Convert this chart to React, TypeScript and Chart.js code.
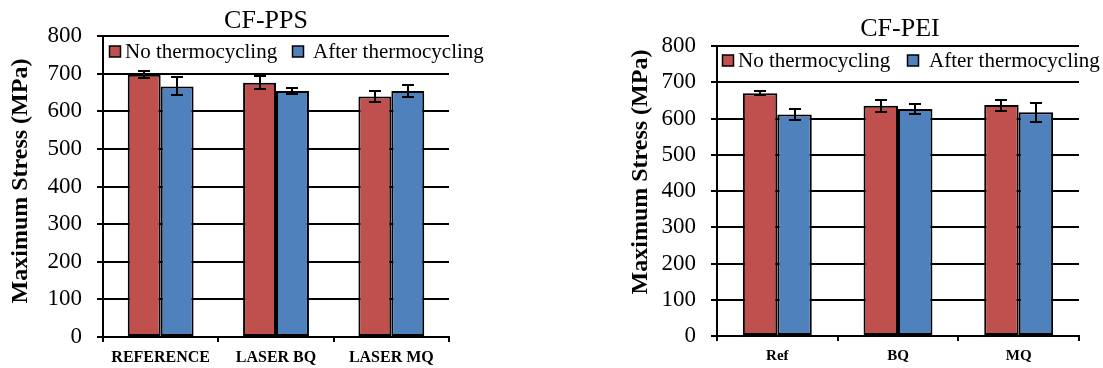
import React, { useEffect, useRef } from "react";
import { Chart, registerables } from "chart.js";

Chart.register(...registerables);

// ---- Data ----
const seriesLabels = ["No thermocycling", "After thermocycling"];
const seriesColors = ["#C0504D", "#4F81BD"];

const ppsTitle = "CF-PPS";
const ppsCategories = ["REFERENCE", "LASER BQ", "LASER MQ"];
const ppsNoThermo = [697, 676, 639];
const ppsNoThermoErr = [9, 18, 14];
const ppsAfterThermo = [666, 654, 654];
const ppsAfterThermoErr = [24, 8, 15];

const peiTitle = "CF-PEI";
const peiCategories = ["Ref", "BQ", "MQ"];
const peiNoThermo = [670, 635, 637];
const peiNoThermoErr = [5, 16, 15];
const peiAfterThermo = [611, 626, 617];
const peiAfterThermoErr = [15, 13, 26];

const yAxisTitle = "Maximum Stress (MPa)";
const yMin = 0;
const yMax = 800;
const yStep = 100;

const FONT = '"Liberation Serif", "Times New Roman", serif';

// ---- Plugins ----
const errorBarPlugin = {
  id: "errorBars",
  afterDatasetsDraw(chart: any) {
    const ctx = chart.ctx;
    const yScale = chart.scales.y;
    const cap = 6;
    chart.data.datasets.forEach((ds: any, i: number) => {
      const meta = chart.getDatasetMeta(i);
      meta.data.forEach((bar: any, j: number) => {
        const v = ds.data[j];
        const e = ds.errors[j];
        const x = Math.round(bar.x);
        const yt = Math.round(yScale.getPixelForValue(v + e));
        const yb = Math.round(yScale.getPixelForValue(v - e));
        ctx.save();
        ctx.strokeStyle = "#000";
        ctx.lineWidth = 2;
        ctx.beginPath();
        ctx.moveTo(x, yt);
        ctx.lineTo(x, yb);
        ctx.moveTo(x - cap, yt);
        ctx.lineTo(x + cap, yt);
        ctx.moveTo(x - cap, yb);
        ctx.lineTo(x + cap, yb);
        ctx.stroke();
        ctx.restore();
      });
    });
  },
};

const panelTextPlugin = {
  id: "panelText",
  afterDraw(chart: any, _args: any, opts: any) {
    const ctx = chart.ctx;
    ctx.save();
    ctx.fillStyle = "#000";
    ctx.textBaseline = "middle";

    // chart title
    ctx.textAlign = "center";
    ctx.font = `${opts.titleSize}px ${FONT}`;
    ctx.fillText(opts.title, opts.titleX, opts.titleY);

    // y-axis title
    ctx.save();
    ctx.translate(opts.yTitleX, opts.yTitleY);
    ctx.rotate(-Math.PI / 2);
    ctx.font = `bold ${opts.yTitleSize}px ${FONT}`;
    ctx.fillText(opts.yTitle, 0, 0);
    ctx.restore();

    // legend
    ctx.textAlign = "left";
    ctx.font = `${opts.legendSize}px ${FONT}`;
    const box = opts.legendBox;
    chart.data.datasets.forEach((ds: any, i: number) => {
      const item = opts.legendItems[i];
      ctx.fillStyle = ds.backgroundColor;
      ctx.fillRect(item.boxX, opts.legendY - box / 2, box, box);
      ctx.strokeStyle = "#000";
      ctx.lineWidth = 1.5;
      ctx.strokeRect(item.boxX, opts.legendY - box / 2, box, box);
      ctx.fillStyle = "#000";
      ctx.fillText(ds.label, item.textX, opts.legendY + 1);
    });
    ctx.restore();
  },
};

type Panel = {
  categories: string[];
  no: number[];
  noErr: number[];
  after: number[];
  afterErr: number[];
  width: number;
  height: number;
  area: { left: number; right: number; top: number; bottom: number };
  xFontSize: number;
  text: any;
};

function makeConfig(p: Panel): any {
  return {
    type: "bar",
    data: {
      labels: p.categories,
      datasets: [
        {
          label: seriesLabels[0],
          data: p.no,
          errors: p.noErr,
          backgroundColor: seriesColors[0],
          borderColor: "#000",
          borderWidth: 2,
          borderSkipped: false,
        },
        {
          label: seriesLabels[1],
          data: p.after,
          errors: p.afterErr,
          backgroundColor: seriesColors[1],
          borderColor: "#000",
          borderWidth: 2,
          borderSkipped: false,
        },
      ],
    },
    options: {
      responsive: false,
      animation: false,
      layout: {
        padding: {
          top: p.area.top,
          right: p.width - p.area.right,
          bottom: 0,
          left: 0,
        },
      },
      datasets: { bar: { categoryPercentage: 0.571, barPercentage: 1 } },
      plugins: {
        legend: { display: false },
        title: { display: false },
        tooltip: { enabled: false },
        panelText: p.text,
      },
      scales: {
        x: {
          grid: {
            drawOnChartArea: false,
            drawTicks: true,
            tickLength: 5,
            offset: true,
            color: "#000",
            lineWidth: 2,
          },
          border: { color: "#000", width: 2 },
          ticks: {
            color: "#000",
            padding: 6,
            font: { family: FONT, size: p.xFontSize, weight: "bold" },
          },
          afterFit: (s: any) => {
            s.height = p.height - p.area.bottom;
          },
        },
        y: {
          min: yMin,
          max: yMax,
          ticks: {
            stepSize: yStep,
            color: "#000",
            padding: 15,
            font: { family: FONT, size: 23 },
          },
          grid: { color: "#000", lineWidth: 2, tickLength: 6 },
          border: { color: "#000", width: 2 },
          afterFit: (s: any) => {
            s.width = p.area.left;
          },
        },
      },
    },
    plugins: [errorBarPlugin, panelTextPlugin],
  };
}

const leftPanel: Panel = {
  categories: ppsCategories,
  no: ppsNoThermo,
  noErr: ppsNoThermoErr,
  after: ppsAfterThermo,
  afterErr: ppsAfterThermoErr,
  width: 560,
  height: 368,
  area: { left: 103, right: 449, top: 36, bottom: 337 },
  xFontSize: 16,
  text: {
    title: ppsTitle,
    titleX: 266,
    titleY: 21,
    titleSize: 26,
    yTitle: yAxisTitle,
    yTitleX: 21,
    yTitleY: 181,
    yTitleSize: 24,
    legendSize: 21,
    legendBox: 11,
    legendY: 51.5,
    legendItems: [
      { boxX: 109.5, textX: 125 },
      { boxX: 292.5, textX: 313 },
    ],
  },
};

const rightPanel: Panel = {
  categories: peiCategories,
  no: peiNoThermo,
  noErr: peiNoThermoErr,
  after: peiAfterThermo,
  afterErr: peiAfterThermoErr,
  width: 543,
  height: 368,
  area: { left: 157, right: 519, top: 46, bottom: 336 },
  xFontSize: 15,
  text: {
    title: peiTitle,
    titleX: 340,
    titleY: 29,
    titleSize: 26,
    yTitle: yAxisTitle,
    yTitleX: 81,
    yTitleY: 172,
    yTitleSize: 24,
    legendSize: 21,
    legendBox: 11,
    legendY: 60.5,
    legendItems: [
      { boxX: 162.5, textX: 178 },
      { boxX: 347.5, textX: 369 },
    ],
  },
};

function ChartCanvas({ panel, left }: { panel: Panel; left: number }) {
  const ref = useRef<HTMLCanvasElement | null>(null);
  useEffect(() => {
    if (!ref.current) return;
    const chart = new Chart(ref.current, makeConfig(panel));
    return () => chart.destroy();
  }, [panel]);
  return (
    <canvas
      ref={ref}
      width={panel.width}
      height={panel.height}
      style={{
        position: "absolute",
        left,
        top: 0,
        width: panel.width,
        height: panel.height,
      }}
    />
  );
}

export default function App() {
  return (
    <div
      style={{
        position: "fixed",
        left: 0,
        top: 0,
        width: 1103,
        height: 368,
        background: "#fff",
        overflow: "hidden",
      }}
    >
      <ChartCanvas panel={leftPanel} left={0} />
      <ChartCanvas panel={rightPanel} left={560} />
    </div>
  );
}
